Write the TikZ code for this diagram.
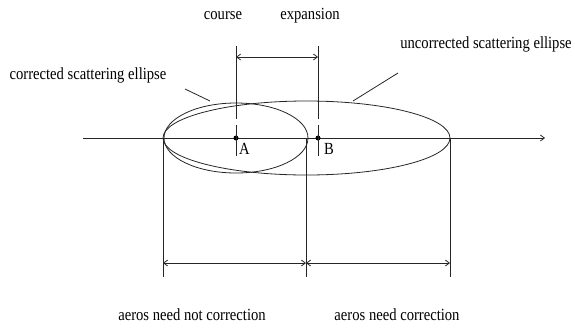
\documentclass[tikz,border=0pt]{standalone}
\usepackage{fontspec}
\setmainfont{Liberation Serif}[FakeStretch=0.86]
\usepackage{tikz}
\usetikzlibrary{arrows.meta,positioning}

\begin{document}
\begin{tikzpicture}[
  x=1pt, y=-1pt,
  line/.style={line width=0.8pt, draw=black!85},
  dim/.style={line width=0.8pt, draw=black!85,
              {Straight Barb[length=4pt,width=6pt]}-{Straight Barb[length=4pt,width=6pt]}},
  pt/.style={circle, fill=black, inner sep=0pt, minimum size=5pt},
  lbl/.style={font=\fontsize{17}{19}\selectfont, inner sep=0pt}
]
\useasboundingbox (0,0) rectangle (575,327);
% axis
\coordinate (axisL) at (83,138);
\coordinate (axisR) at (545,138);
\draw[line, -{Straight Barb[length=4pt,width=6pt]}] (axisL) -- (axisR);
% ellipses
\draw[line] (236,138) ellipse [x radius=72pt, y radius=35pt];
\draw[line] (306.5,138) ellipse [x radius=143.5pt, y radius=37pt];
% points
\node[pt] (A) at (236,138) {};
\node[pt] (B) at (318,138) {};
\node[lbl, anchor=west] (Alab) at (239,149) {A};
\node[lbl, anchor=west] (Blab) at (324,149) {B};
% course / expansion
\coordinate (Atop) at (236,46);
\coordinate (Agap) at (236,119);
\coordinate (Agap2) at (236,125);
\coordinate (Abot) at (236,156);
\coordinate (Btop) at (318,46);
\coordinate (Bgap) at (318,119);
\coordinate (Bgap2) at (318,125);
\coordinate (Bbot) at (318,156);
\draw[line] (Atop) -- (Agap);
\draw[line] (Agap2) -- (Abot);
\draw[line] (Btop) -- (Bgap);
\draw[line] (Bgap2) -- (Bbot);
\coordinate (dimA) at (236,57);
\coordinate (dimB) at (318,57);
\draw[dim] (dimA) -- (dimB);
\node[lbl] (course) at (223,16) {course};
\node[lbl] (expansion) at (310,16) {expansion};
% ellipse labels
\node[lbl] (corr) at (88,75) {corrected scattering ellipse};
\node[lbl] (uncorr) at (486,44) {uncorrected scattering ellipse};
\coordinate (corrL) at (185,89);
\coordinate (corrE) at (210,101);
\coordinate (uncorrL) at (398,73);
\coordinate (uncorrE) at (353,101);
\draw[line] (corrL) -- (corrE);
\draw[line] (uncorrL) -- (uncorrE);
% ranges
\coordinate (r1) at (163,138);
\coordinate (r2) at (306,138);
\coordinate (r3) at (450,138);
\coordinate (r1b) at (163,277);
\coordinate (r2b) at (306,277);
\coordinate (r3b) at (450,277);
\draw[line] (r1) -- (r1b);
\draw[line] (r2) -- (r2b);
\draw[line] (r3) -- (r3b);
\coordinate (d1) at (163,263);
\coordinate (d2) at (306,263);
\coordinate (d3) at (450,263);
\draw[dim] (d1) -- (d2);
\draw[dim] (d2) -- (d3);
\node[lbl] (notcorr) at (192,315) {aeros need not correction};
\node[lbl] (needcorr) at (397,315) {aeros need correction};
\end{tikzpicture}
\end{document}
